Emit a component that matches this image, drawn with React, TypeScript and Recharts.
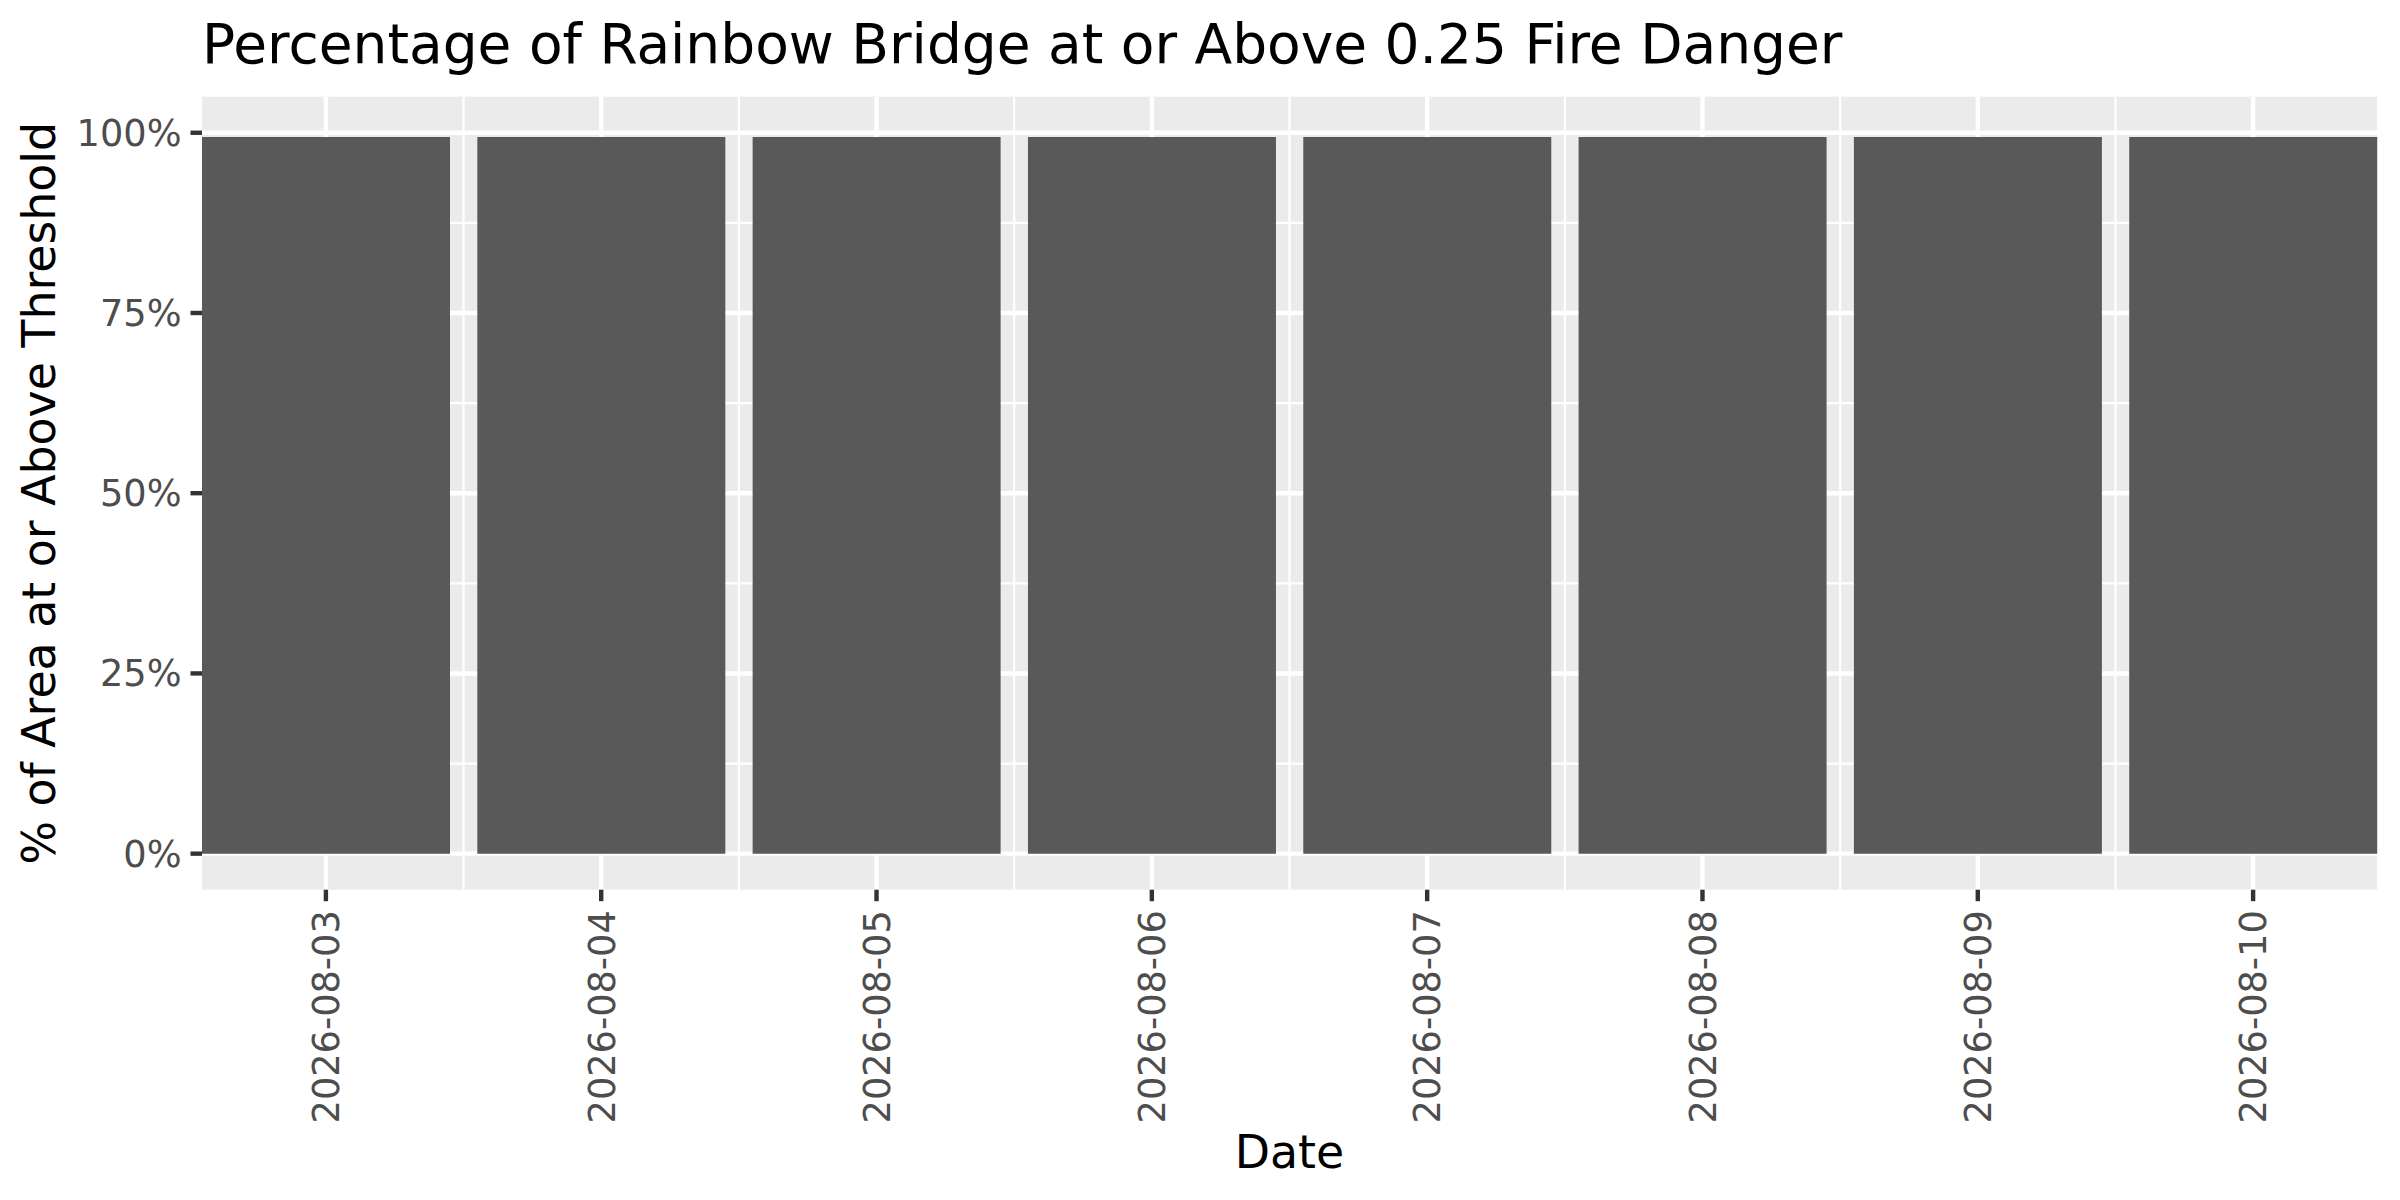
import React from 'react';
import { BarChart, Bar, XAxis, YAxis, CartesianGrid, ReferenceLine } from 'recharts';

const dates = [
  '2026-08-03',
  '2026-08-04',
  '2026-08-05',
  '2026-08-06',
  '2026-08-07',
  '2026-08-08',
  '2026-08-09',
  '2026-08-10',
];
const shareAbove = [0.994, 0.994, 0.994, 0.994, 0.994, 0.994, 0.994, 0.994];
const yTicks = [0, 0.25, 0.5, 0.75, 1];
const yMinorTicks = [0.125, 0.375, 0.625, 0.875];

const FONT = '"DejaVu Sans", sans-serif';
const TITLE = 'Percentage of Rainbow Bridge at or Above 0.25 Fire Danger';

const chartData = dates.map((date, i) => ({ idx: i + 1, date, share: shareAbove[i] }));
const xTicks = chartData.map((d) => d.idx);
const xMinorTicks = chartData.slice(1).map((d) => d.idx - 0.5);

const DateTick = (props: any) => {
  const { x, y, payload } = props;
  return (
    <text
      x={x}
      y={y}
      dy={13.3}
      transform={`rotate(-90, ${x}, ${y})`}
      textAnchor="end"
      fill="#4D4D4D"
      fontSize={36.7}
      fontFamily={FONT}
    >
      {dates[payload.value - 1]}
    </text>
  );
};

const YTitle = (props: any) => {
  const vb = props.viewBox;
  const cx = vb.x + 55;
  const cy = vb.y + vb.height / 2;
  return (
    <text
      x={cx}
      y={cy}
      transform={`rotate(-90, ${cx}, ${cy})`}
      textAnchor="middle"
      fill="#000000"
      fontSize={45.8}
      fontFamily={FONT}
    >
      % of Area at or Above Threshold
    </text>
  );
};

const App: React.FC = () => {
  return (
    <div style={{ position: 'absolute', left: 0, top: 0, width: 2400, height: 1200, background: '#ffffff' }}>
      <div
        style={{
          position: 'absolute',
          left: 202,
          top: 16.5,
          fontFamily: FONT,
          fontSize: 55,
          lineHeight: '55px',
          color: '#000000',
          whiteSpace: 'nowrap',
        }}
      >
        {TITLE}
      </div>
      <BarChart
        width={2400}
        height={1200}
        data={chartData}
        margin={{ top: 96.7, right: 23, bottom: 0, left: 0 }}
        barCategoryGap="5%"
      >
        <CartesianGrid fill="#EBEBEB" horizontal={false} vertical={false} />
        {yMinorTicks.map((v) => (
          <ReferenceLine key={`ym${v}`} y={v} stroke="#ffffff" strokeWidth={2.2} zIndex={-60} />
        ))}
        {xMinorTicks.map((v) => (
          <ReferenceLine key={`xm${v}`} x={v} stroke="#ffffff" strokeWidth={2.2} zIndex={-60} />
        ))}
        {yTicks.map((v) => (
          <ReferenceLine key={`y${v}`} y={v} stroke="#ffffff" strokeWidth={4.4} zIndex={-50} />
        ))}
        {xTicks.map((v) => (
          <ReferenceLine key={`x${v}`} x={v} stroke="#ffffff" strokeWidth={4.4} zIndex={-50} />
        ))}
        <XAxis
          dataKey="idx"
          type="number"
          domain={[0.55, 8.45]}
          ticks={xTicks}
          interval={0}
          height={310.3}
          axisLine={false}
          tickLine={{ stroke: '#333333', strokeWidth: 4.4 }}
          tickSize={11.5}
          tickMargin={9}
          tick={<DateTick />}
          label={{
            value: 'Date',
            position: 'insideBottom',
            offset: 32,
            fill: '#000000',
            fontSize: 45.8,
            fontFamily: FONT,
          }}
        />
        <YAxis
          type="number"
          domain={[-0.05, 1.05]}
          ticks={yTicks}
          width={202}
          axisLine={false}
          tickLine={{ stroke: '#333333', strokeWidth: 4.4 }}
          tickSize={11.5}
          tickMargin={9}
          tickFormatter={(v: number) => `${Math.round(v * 100)}%`}
          tick={{ fill: '#4D4D4D', fontSize: 36.7, fontFamily: FONT }}
          label={{ content: <YTitle /> }}
        />
        <Bar dataKey="share" fill="#595959" isAnimationActive={false} />
      </BarChart>
    </div>
  );
};

export default App;
